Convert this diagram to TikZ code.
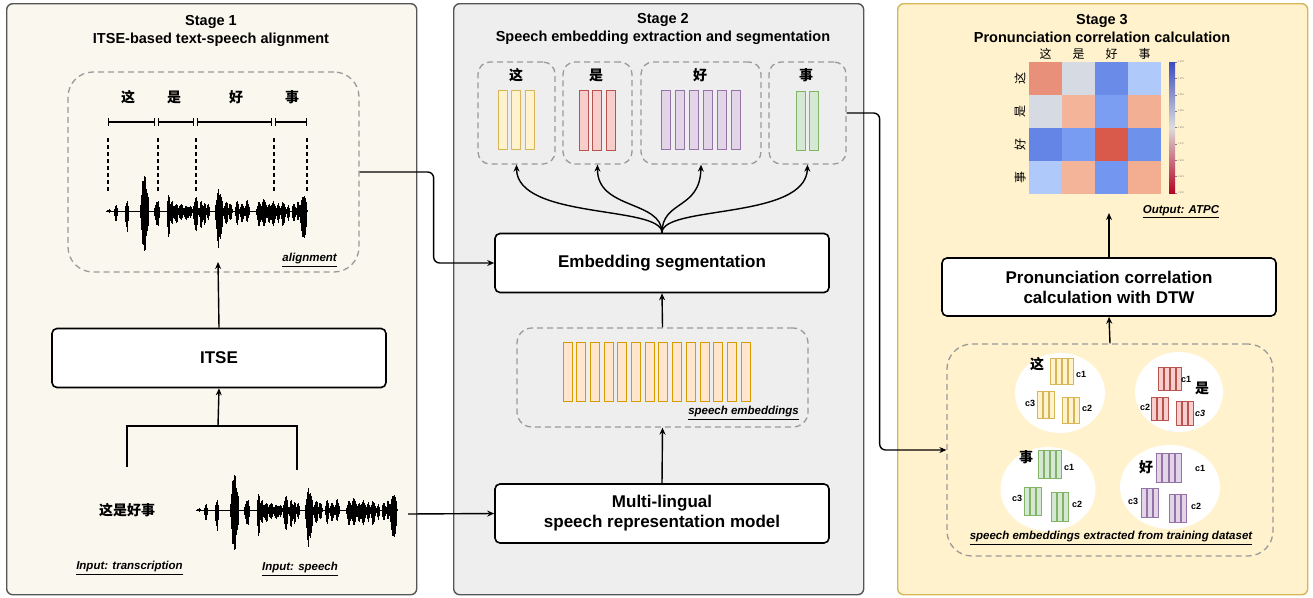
\documentclass[tikz,border=0pt]{standalone}
\usepackage{fontspec}
\setmainfont{Liberation Sans}
\newfontfamily\cjk{Noto Sans CJK SC}
\usetikzlibrary{arrows.meta,positioning,calc}

\definecolor{sonefill}{HTML}{F9F7EE}
\definecolor{stwofill}{HTML}{EEEEEE}
\definecolor{sthreefill}{HTML}{FFF2CC}
\definecolor{sthreedraw}{HTML}{D6B656}
\definecolor{panelgray}{HTML}{555555}
\definecolor{dashgray}{HTML}{9A9A9A}
\definecolor{yelF}{HTML}{FFF2CC}\definecolor{yelD}{HTML}{D6B656}
\definecolor{redF}{HTML}{F8CECC}\definecolor{redD}{HTML}{B85450}
\definecolor{purF}{HTML}{E1D5E7}\definecolor{purD}{HTML}{9673A6}
\definecolor{grnF}{HTML}{D5E8D4}\definecolor{grnD}{HTML}{82B366}
\definecolor{orgF}{HTML}{FFE6CC}\definecolor{orgD}{HTML}{D79B00}
\definecolor{cbtop}{HTML}{3B4CC0}
\definecolor{cbmid}{HTML}{DDDCDC}
\definecolor{cbbot}{HTML}{B40426}

\newcommand{\vecs}[7]{\foreach \k in {1,...,#3}{\draw[#7] ({#1+(\k-1)*#4},#2) rectangle ++(#5,#6);}}
\newcommand{\speechwave}[1]{%
  \pgfmathsetseed{7}%
  \begin{scope}[shift={#1}]
    \draw[line width=1] (0,0) -- (201,0);
    \foreach \c/\w/\u/\d in {2.5/2/2/2,10/1.8/7/13,21/1.8/13/27,38.5/4.5/37/42,51/3/12/18,62.5/1.5/18/30,66/3/10/14,70/3/7/12,75/3/8/10,80/3/7/12,84/2.5/6/8,89.5/3/15/22,95/2/10/18,98.5/2/9/15,102/2/8/10,113/4.5/23/38,120/2.5/10/14,124/2.5/8/10,131/2.5/10/14,136/3/8/12,141/2.5/12/12,153/3/10/17,158/3/13/17,163/2.5/8/14,167/3/10/16,172/2.5/8/12,177/3/10/17,182/2/6/10,188/2.5/8/12,192/2/10/10,197.5/3.8/18/33}{%
      \pgfmathtruncatemacro{\n}{2*\w/0.5}%
      \foreach \k in {0,...,\n}{%
        \pgfmathsetmacro{\xx}{\c-\w+\k*0.5}%
        \pgfmathsetmacro{\e}{1-((\xx-\c)/\w)^2}%
        \pgfmathsetmacro{\r}{0.6+0.4*rnd}%
        \fill ({\xx-0.4},{-\u*\e*\r}) rectangle ({\xx+0.4},{\d*\e*\r});
      }}
  \end{scope}}

\begin{document}
\begin{tikzpicture}[x=1pt,y=-1pt,
  panel/.style={draw=#1,line width=1.4,rounded corners=6,anchor=north west,minimum width=410,minimum height=591,inner sep=0},
  title/.style={font=\bfseries\fontsize{14.5}{18}\selectfont,align=center},
  box/.style={draw,line width=1.6,rounded corners=5,fill=white,minimum width=334,minimum height=59,align=center,inner sep=0,font=\bfseries\fontsize{17}{20}\selectfont},
  dbox/.style={draw=dashgray,line width=1.3,dash pattern=on 6pt off 4pt,inner sep=0},
  lab/.style={font=\bfseries\itshape\fontsize{11.5}{14}\selectfont,inner sep=1},
  zi/.style={font=\cjk\bfseries\fontsize{14}{16}\selectfont,inner sep=0},
  hmlab/.style={font=\cjk\fontsize{12}{14}\selectfont,inner sep=0},
  ci/.style={font=\bfseries\fontsize{9}{10}\selectfont,inner sep=0},
  arr/.style={-{Stealth[length=7pt,width=6pt]},line width=1.4},
  yel/.style={draw=yelD,fill=yelF,line width=0.9},
  red/.style={draw=redD,fill=redF,line width=0.9},
  pur/.style={draw=purD,fill=purF,line width=0.9},
  grn/.style={draw=grnD,fill=grnF,line width=0.9},
  org/.style={draw=orgD,fill=orgF,line width=0.9}]

\useasboundingbox (0,0) rectangle (1313,597);

\node[panel=panelgray,fill=sonefill] (S1) at (6,3) {};
\node[panel=panelgray,fill=stwofill] (S2) at (453,3) {};
\node[panel=sthreedraw,fill=sthreefill] (S3) at (897,3) {};

\node[title] (t1) at (211,31) {Stage 1\\ITSE-based text-speech alignment};
\node[title] (t2) at (663,29) {Stage 2\\Speech embedding extraction and segmentation};
\node[title] (t3) at (1102,29) {Stage 3\\Pronunciation correlation calculation};

\node[dbox,rounded corners=25,minimum width=291,minimum height=200] (al) at (213.5,172) {};
\node[zi] (a1) at (128,97) {这};
\node[zi] (a2) at (174,97) {是};
\node[zi] (a3) at (236,97) {好};
\node[zi] (a4) at (292,97) {事};
\foreach \p/\q in {108/155,158/194,197/272,275/307}
  \draw[{Bar[width=8pt]}-{Bar[width=8pt]},line width=1.3] (\p,122) -- (\q,122);
\foreach \p in {108,158,196,274,307}
  \draw[line width=1.6,dash pattern=on 4pt off 3pt] (\p,138) -- (\p,192);
\speechwave{(106,211)}
\node[lab,anchor=east] (allab) at (338,260) {\underline{alignment}};
\coordinate (wtip) at (218,262);

\node[box] (itse) at (219,358) {ITSE};
\coordinate (jn) at (218,426);
\coordinate (tr) at (127,467);
\coordinate (sp) at (297,470);
\node[zi] (trans) at (127,510) {这是好事};
\speechwave{(196,510)}
\coordinate (wv) at (408,514);
\node[lab] (inlab) at (129.5,568) {\underline{Input: transcription}};
\node[lab] (splab) at (300,569) {\underline{Input: speech}};

\node[dbox,rounded corners=12,minimum width=77,minimum height=102] (b1) at (516.5,113) {};
\node[dbox,rounded corners=12,minimum width=69,minimum height=102] (b2) at (597.5,113) {};
\node[dbox,rounded corners=12,minimum width=120,minimum height=102] (b3) at (701,113) {};
\node[dbox,rounded corners=12,minimum width=77,minimum height=102] (b4) at (807.5,113) {};
\node[zi] (z1) at (516,75) {这};
\node[zi] (z2) at (596,75) {是};
\node[zi] (z3) at (700,75) {好};
\node[zi] (z4) at (806,75) {事};
\vecs{498}{90}{3}{13.5}{9}{59}{yel}
\vecs{579}{90}{3}{13.5}{9}{60}{red}
\vecs{661}{90}{6}{14}{9}{59}{pur}
\vecs{796}{91}{2}{13.5}{9}{59}{grn}

\node[box] (seg) at (662,263) {Embedding segmentation};
\node[dbox,rounded corners=15,minimum width=291,minimum height=99] (emb) at (662.5,377.5) {};
\vecs{563}{342}{14}{13.7}{9}{59}{org}
\node[lab,anchor=east] (emblab) at (800,413) {\underline{speech embeddings}};
\node[box] (mlm) at (662,513.5) {Multi-lingual\\speech representation model};

\foreach \i/\j/\c in {0/0/E8907A,1/0/D6DAE2,2/0/6A8CE8,3/0/AEC9FA,
                      0/1/D6DAE2,1/1/F3B49A,2/1/7B9EF2,3/1/F2AF94,
                      0/2/6485E5,1/2/789CF2,2/2/D95A4A,3/2/6E91EC,
                      0/3/AEC9FA,1/3/F4B49A,2/3/7397F0,3/3/F3AD91}{
  \definecolor{hm}{HTML}{\c}
  \fill[hm] ({1029+\i*33},{62+\j*33}) rectangle ++(33,33);
}
\foreach \z [count=\k from 0] in {这,是,好,事}{
  \node[hmlab] (col\k) at ({1045.5+\k*33},54) {\z};
  \node[hmlab,rotate=90] (row\k) at (1020,{78.5+\k*33}) {\z};
}
\shade[top color=cbtop,bottom color=cbbot,middle color=cbmid] (1169,62) rectangle (1175,193);
\foreach \v [count=\k from 0] in {1.400,1.375,1.350,1.325,1.300,1.275,1.250,1.225,1.200}{
  \draw[gray,line width=0.3] (1175,{62+\k*16.375}) -- ++(1.5,0);
  \node[font=\fontsize{2.5}{3}\selectfont,text=gray,anchor=west,inner sep=0.5] (cb\k) at (1177,{62+\k*16.375}) {\v};
}
\node[lab] (outlab) at (1181,212) {\underline{Output: ATPC}};
\coordinate (otip) at (1109,213);

\node[box,minimum height=58] (dtw) at (1109,287) {Pronunciation correlation\\calculation with DTW};
\node[dbox,rounded corners=25,minimum width=326,minimum height=212] (train) at (1110,450) {};

\fill[white] (1060,393) ellipse (45 and 40);
\fill[white] (1179,392) ellipse (44 and 40);
\fill[white] (1048,489) ellipse (47.5 and 42);
\fill[white] (1170,487) ellipse (50 and 42);

\node[zi] (e1) at (1037,364) {这};
\vecs{1050}{358}{4}{6}{5}{26}{yel}
\vecs{1037}{391}{3}{6}{5}{27}{yel}
\vecs{1062}{397}{3}{6}{5}{26}{yel}
\node[ci] (e1c1) at (1081,374) {c1};
\node[ci] (e1c3) at (1030,403) {c3};
\node[ci] (e1c2) at (1087,408) {c2};

\node[zi] (e2) at (1202,388) {是};
\vecs{1158}{367}{4}{6}{5}{23}{red}
\vecs{1151}{397}{3}{6}{5}{23}{red}
\vecs{1176}{401}{3}{6}{5}{24}{red}
\node[ci] (e2c1) at (1186,379) {c1};
\node[ci] (e2c2) at (1145,407) {c2};
\node[ci,font=\bfseries\itshape\fontsize{9}{10}\selectfont] (e2c3) at (1200,413) {c3};

\node[zi] (e3) at (1026,457) {事};
\vecs{1038}{450}{4}{6}{5}{28}{grn}
\vecs{1024}{487}{3}{6}{5}{28}{grn}
\vecs{1051}{492}{3}{6}{5}{29}{grn}
\node[ci] (e3c1) at (1069,467) {c1};
\node[ci] (e3c3) at (1017,498) {c3};
\node[ci] (e3c2) at (1077,504) {c2};

\node[zi] (e4) at (1146,467) {好};
\vecs{1156}{453}{4}{6.5}{5.5}{29}{pur}
\vecs{1141}{488}{3}{6}{5}{29}{pur}
\vecs{1169}{494}{3}{6}{5}{28}{pur}
\node[ci] (e4c1) at (1200,468) {c1};
\node[ci] (e4c3) at (1133,501) {c3};
\node[ci] (e4c2) at (1196,506) {c2};

\node[lab] (trlab) at (1111,538) {\underline{speech embeddings extracted from training dataset}};

\draw[arr] (itse.north) -- (wtip);
\draw[line width=1.4] (tr) |- (jn) -| (sp);
\draw[arr] (jn) -- (itse.south);
\draw[arr,rounded corners=6] (al.east) -- ++(74,0) |- (seg.west);
\draw[arr] (wv) -- (mlm.west);
\draw[arr] (mlm.north) -- (emb.south);
\draw[arr] (emb.north) -- (seg.south);
\draw[arr] (seg.north) .. controls (662,205) and (517,220) .. (b1.south);
\draw[arr] (seg.north) .. controls (662,200) and (597,210) .. (b2.south);
\draw[arr] (seg.north) .. controls (662,200) and (700,210) .. (b3.south);
\draw[arr] (seg.north) .. controls (662,205) and (806,220) .. (b4.south);
\draw[arr,rounded corners=6] (b4.east) -- ++(33,0) |- (train.west);
\draw[arr] (train.north) -- (dtw.south);
\draw[arr] (dtw.north) -- (otip);
\end{tikzpicture}
\end{document}
